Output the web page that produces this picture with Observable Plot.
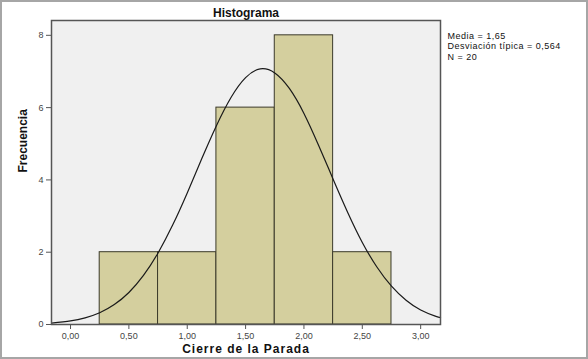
<!DOCTYPE html>
<html>
<head>
<meta charset="utf-8">
<script src="https://cdn.jsdelivr.net/npm/d3@7"></script>
<script src="https://cdn.jsdelivr.net/npm/@observablehq/plot@0.6"></script>
<style>
  html, body { margin: 0; padding: 0; background: #fff; }
  #wrap { position: relative; width: 588px; height: 359px; overflow: hidden; }
  #border { position: absolute; left: 0; top: 0; width: 588px; height: 359px; box-sizing: border-box; border: 2px solid #a6a6a6; pointer-events: none; }
  svg { display: block; }
</style>
</head>
<body>
<div id="wrap"><div id="border"></div></div>
<script>
// Histogram bins (Cierre de la Parada)
const binStart = [0.25, 0.75, 1.25, 1.75, 2.25];
const binEnd   = [0.75, 1.25, 1.75, 2.25, 2.75];
const counts   = [2, 2, 6, 8, 2];

// Fitted normal curve, values read along x
const curveX = [-0.163, 0, 0.125, 0.25, 0.375, 0.5, 0.625, 0.75, 0.875, 1.0, 1.125, 1.25, 1.375, 1.5, 1.625, 1.75, 1.875, 2.0, 2.125, 2.25, 2.375, 2.5, 2.625, 2.75, 2.875, 3.0, 3.125, 3.17];
const curveY = [0.04, 0.098, 0.183, 0.325, 0.55, 0.885, 1.357, 1.98, 2.75, 3.64, 4.59, 5.50, 6.28, 6.83, 7.07, 6.96, 6.53, 5.84, 4.96, 4.02, 3.10, 2.27, 1.59, 1.06, 0.67, 0.40, 0.23, 0.19];

const xTicks = [0, 0.5, 1, 1.5, 2, 2.5, 3];
const yTicks = [0, 2, 4, 6, 8];
const statsText = ["Media = 1,65", "Desviación típica = 0,564", "N = 20"];

const bins = binStart.map((s, i) => ({x1: s, x2: binEnd[i], count: counts[i]}));
const curve = curveX.map((x, i) => ({x, y: curveY[i]}));

const chart = Plot.plot({
  width: 588,
  height: 359,
  marginTop: 20,
  marginLeft: 51,
  marginRight: 148,
  marginBottom: 35,
  style: {fontFamily: "'Liberation Sans', Arial, sans-serif", fontSize: "9px", color: "#333", background: "transparent"},
  x: {domain: [-0.163, 3.17]},
  y: {domain: [0, 8.41]},
  marks: [
    Plot.frame({fill: "#f0f0f0", stroke: null}),
    Plot.rectY(bins, {x1: "x1", x2: "x2", y: "count", fill: "#d4cf9e", stroke: "#3b3a2a", strokeWidth: 1}),
    Plot.line(curve, {x: "x", y: "y", stroke: "#1a1a1a", strokeWidth: 1.2, curve: "natural"}),
    Plot.frame({stroke: "#555", strokeWidth: 1.5}),
    Plot.axisX({ticks: xTicks, tickFormat: d => d.toFixed(2).replace(".", ","), tickSize: 5, tickPadding: 3, label: null, stroke: "#555", fill: "#444"}),
    Plot.axisY({ticks: yTicks, tickFormat: d => String(d), tickSize: 5, tickPadding: 3, label: null, stroke: "#555", fill: "#444"}),
    Plot.text(["Histograma"], {frameAnchor: "top", dy: -4, lineAnchor: "bottom", fontWeight: "bold", fontSize: 12, fill: "#111"}),
    Plot.text(["Cierre de la Parada"], {frameAnchor: "bottom", dy: 28, fontWeight: "bold", fontSize: 12, fill: "#111"}),
    Plot.text(["Frecuencia"], {frameAnchor: "left", dx: -28, rotate: -90, fontWeight: "bold", fontSize: 12, fill: "#111"}),
    Plot.text([statsText.join("\n")], {frameAnchor: "top-right", dx: 7, dy: 11, textAnchor: "start", lineAnchor: "top", fontSize: 9, lineHeight: 1.15, fill: "#111"})
  ]
});
d3.select(chart).selectAll("text").each(function() {
  const t = this.textContent;
  if (t === "Cierre de la Parada") this.setAttribute("letter-spacing", "1");
  if (t.startsWith("Media")) this.setAttribute("letter-spacing", "0.5");
});
document.getElementById("wrap").prepend(chart);
</script>
</body>
</html>
